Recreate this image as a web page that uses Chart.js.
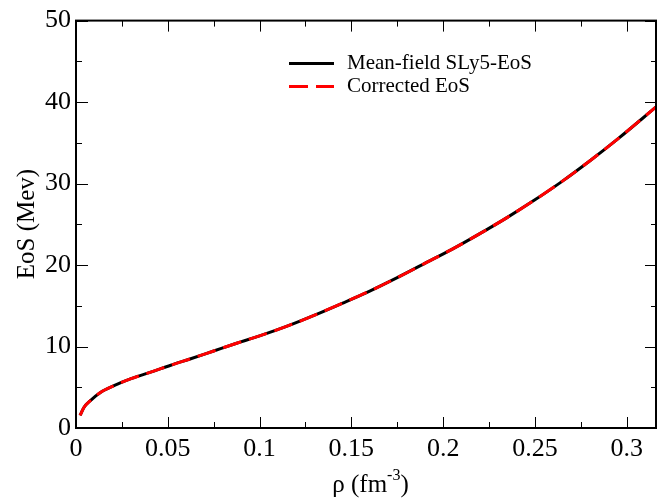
<!DOCTYPE html>
<html>
<head>
<meta charset="utf-8">
<script src="https://cdn.jsdelivr.net/npm/chart.js@4"></script>
<style>
  html, body { margin: 0; padding: 0; background: #fff; }
  #wrap { width: 657px; height: 500px; }
</style>
</head>
<body>
<div id="wrap"><canvas id="chart" width="657" height="500"></canvas></div>
<script>
const rho = [0.0022, 0.0044, 0.008, 0.0135, 0.0207, 0.03, 0.0407, 0.0516, 0.0625, 0.075,
  0.0875, 0.1, 0.115, 0.13, 0.145, 0.16, 0.175, 0.19, 0.205, 0.22,
  0.235, 0.25, 0.265, 0.28, 0.295, 0.3165];
const eosMeanField = [1.55, 2.55, 3.4, 4.4, 5.2, 6.05, 6.85, 7.7, 8.5, 9.45,
  10.4, 11.3, 12.5, 13.85, 15.3, 16.8, 18.45, 20.2, 21.95, 23.85,
  25.85, 28.0, 30.3, 32.8, 35.45, 39.5];
const eosCorrected = [1.55, 2.55, 3.4, 4.4, 5.2, 6.05, 6.85, 7.7, 8.5, 9.45,
  10.4, 11.3, 12.5, 13.85, 15.3, 16.8, 18.45, 20.2, 21.95, 23.85,
  25.85, 28.0, 30.3, 32.8, 35.45, 39.5];
const xTicks = [0, 0.05, 0.1, 0.15, 0.2, 0.25, 0.3];
const xTickLabels = ['0', '0.05', '0.1', '0.15', '0.2', '0.25', '0.3'];
const yTicks = [0, 10, 20, 30, 40, 50];
const seriesNames = ['Mean-field SLy5-EoS', 'Corrected EoS'];

const SERIF = "'Liberation Serif', 'DejaVu Serif', serif";

function toPoints(xs, ys) {
  return xs.map((x, i) => ({ x: x, y: ys[i] }));
}

// frame, inward ticks on all four sides, axis titles and legend
const framePlugin = {
  id: 'frame',
  afterDatasetsDraw(chart) {
    const { ctx, chartArea: a, scales } = chart;
    const xs = scales.x, ys = scales.y;
    ctx.save();
    ctx.strokeStyle = '#000';
    ctx.lineWidth = 1;

    const tick = (x1, y1, x2, y2) => {
      ctx.beginPath(); ctx.moveTo(x1, y1); ctx.lineTo(x2, y2); ctx.stroke();
    };
    for (let v = 0; v <= xs.max + 1e-9; v += 0.025) {
      const px = Math.round(xs.getPixelForValue(v)) + 0.5;
      const len = Math.abs(v / 0.05 - Math.round(v / 0.05)) < 1e-6 ? 11 : 6;
      tick(px, a.bottom, px, a.bottom - len);
      tick(px, a.top, px, a.top + len);
    }
    for (let v = 0; v <= 50 + 1e-9; v += 5) {
      const py = Math.round(ys.getPixelForValue(v)) + 0.5;
      const len = v % 10 === 0 ? 12 : 6;
      tick(a.left, py, a.left + len, py);
      tick(a.right, py, a.right - len, py);
    }

    ctx.lineWidth = 2;
    ctx.strokeRect(a.left, a.top, a.right - a.left - 1, a.bottom - a.top);

    // axis titles
    ctx.fillStyle = '#000';
    ctx.textBaseline = 'alphabetic';
    const main = 'ρ (fm';
    const sup = '-3';
    const close = ')';
    ctx.font = '25px ' + SERIF;
    const wMain = ctx.measureText(main).width;
    const wClose = ctx.measureText(close).width;
    ctx.font = '16px ' + SERIF;
    const wSup = ctx.measureText(sup).width;
    let tx = (a.left + a.right) / 2 - (wMain + wSup + wClose) / 2 + 4;
    const ty = 492;
    ctx.font = '25px ' + SERIF;
    ctx.textAlign = 'left';
    ctx.fillText(main, tx, ty);
    tx += wMain;
    ctx.font = '16px ' + SERIF;
    ctx.fillText(sup, tx, ty - 12);
    tx += wSup;
    ctx.font = '25px ' + SERIF;
    ctx.fillText(close, tx, ty);

    ctx.save();
    ctx.translate(27, 224);
    ctx.rotate(-Math.PI / 2);
    ctx.textAlign = 'center';
    ctx.textBaseline = 'middle';
    ctx.font = '25px ' + SERIF;
    ctx.fillText('EoS (Mev)', 0, 0);
    ctx.restore();

    // legend
    const rows = [63, 86];
    chart.data.datasets.forEach((ds, i) => {
      const y = rows[i] + 0.5;
      ctx.save();
      ctx.strokeStyle = ds.borderColor;
      ctx.lineWidth = ds.borderWidth;
      ctx.setLineDash(ds.borderDash || []);
      ctx.beginPath(); ctx.moveTo(289, y); ctx.lineTo(334, y); ctx.stroke();
      ctx.restore();
      ctx.font = '21px ' + SERIF;
      ctx.textAlign = 'left';
      ctx.textBaseline = 'middle';
      ctx.fillStyle = '#000';
      ctx.fillText(ds.label, 347, rows[i]);
    });
    ctx.restore();
  }
};

new Chart(document.getElementById('chart'), {
  type: 'line',
  data: {
    datasets: [
      {
        label: seriesNames[0],
        data: toPoints(rho, eosMeanField),
        borderColor: '#000000',
        borderWidth: 3,
        pointRadius: 0,
        cubicInterpolationMode: 'monotone',
        order: 1,
        fill: false
      },
      {
        label: seriesNames[1],
        data: toPoints(rho, eosCorrected),
        borderColor: '#ff0000',
        borderWidth: 3,
        borderDash: [19, 8],
        pointRadius: 0,
        cubicInterpolationMode: 'monotone',
        order: 0,
        fill: false
      }
    ]
  },
  options: {
    responsive: false,
    animation: false,
    layout: { padding: { top: 18, right: 0, left: 0, bottom: 0 } },
    plugins: {
      legend: { display: false },
      tooltip: { enabled: false }
    },
    scales: {
      x: {
        type: 'linear',
        min: 0,
        max: 0.3165,
        grid: { display: false, drawTicks: false },
        border: { display: false },
        afterBuildTicks: (s) => { s.ticks = xTicks.map(v => ({ value: v })); },
        afterFit: (s) => { s.height = 72; },
        ticks: {
          padding: 6,
          maxRotation: 0,
          autoSkip: false,
          color: '#000',
          font: { family: SERIF, size: 26 },
          callback: (v) => xTickLabels[xTicks.indexOf(v)] ?? ''
        }
      },
      y: {
        min: 0,
        max: 50,
        grid: { display: false, drawTicks: false },
        border: { display: false },
        afterBuildTicks: (s) => { s.ticks = yTicks.map(v => ({ value: v })); },
        afterFit: (s) => { s.width = 76; },
        ticks: {
          padding: 5,
          color: '#000',
          font: { family: SERIF, size: 26 }
        }
      }
    }
  },
  plugins: [framePlugin]
});
</script>
</body>
</html>
